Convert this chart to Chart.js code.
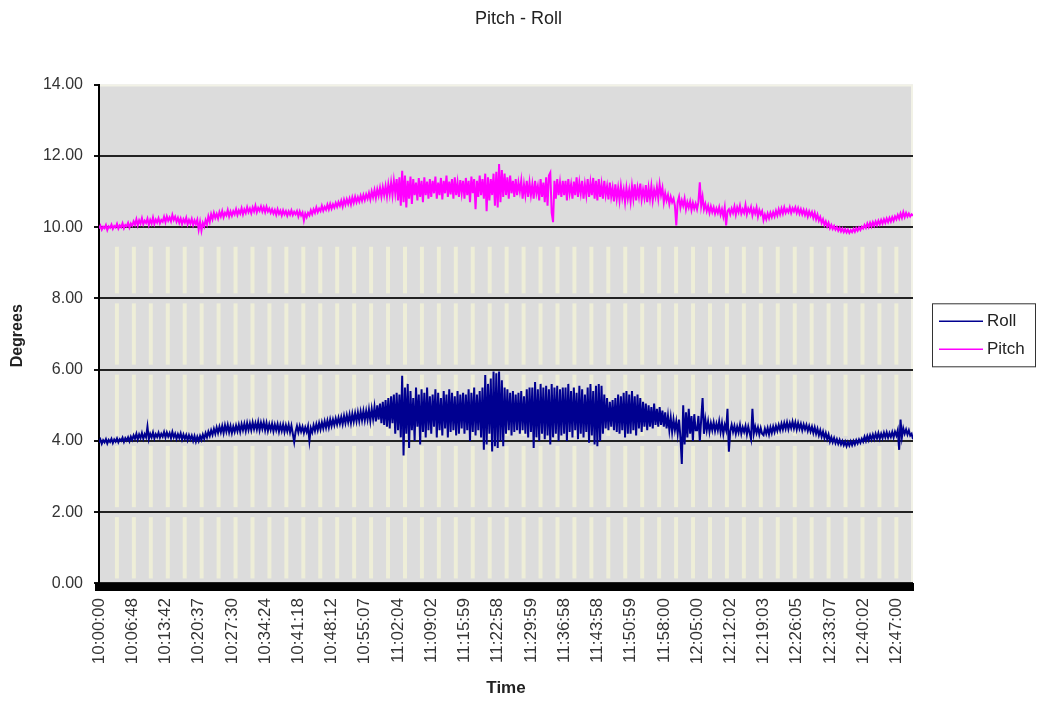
<!DOCTYPE html>
<html><head><meta charset="utf-8">
<script src="https://cdn.jsdelivr.net/npm/chart.js@4.4.1/dist/chart.umd.min.js"></script>
<style>html,body{margin:0;padding:0;background:#fff;}</style>
</head><body>
<canvas id="c" width="1037" height="704"></canvas>
<script>
const chartTitle = 'Pitch - Roll';
const timeLabels = ['10:00:00','10:06:48','10:13:42','10:20:37','10:27:30','10:34:24','10:41:18','10:48:12','10:55:07','11:02:04','11:09:02','11:15:59','11:22:58','11:29:59','11:36:58','11:43:58','11:50:59','11:58:00','12:05:00','12:12:02','12:19:03','12:26:05','12:33:07','12:40:02','12:47:00'];
const samplesPerLabel = 24;
const yTicks = [0, 2, 4, 6, 8, 10, 12, 14];
const seriesNames = ['Roll', 'Pitch'];

const rollValues = [
 3.95,4.04,3.92,4.02,3.96,4.05,3.93,4.03,3.97,4.06,3.94,4.04,3.98,4.07,3.96,4.05,4.0,4.09,3.97,4.08,4.01,4.1,3.99,4.12,
 4.03,4.16,4.06,4.2,4.04,4.18,4.08,4.22,4.06,4.19,4.1,4.4,4.05,4.2,4.1,4.24,4.07,4.19,4.11,4.23,4.09,4.2,4.12,4.25,
 4.1,4.24,4.12,4.22,4.08,4.25,4.1,4.2,4.06,4.19,4.08,4.21,4.04,4.18,4.06,4.17,4.02,4.16,4.04,4.15,4.0,4.14,3.98,4.12,
 4.0,4.14,4.03,4.18,4.06,4.22,4.1,4.26,4.14,4.3,4.17,4.34,4.2,4.38,4.22,4.4,4.24,4.42,4.22,4.44,4.26,4.45,4.24,4.42,
 4.22,4.4,4.25,4.43,4.27,4.45,4.26,4.47,4.3,4.48,4.28,4.5,4.31,4.49,4.3,4.52,4.33,4.5,4.32,4.53,4.3,4.51,4.34,4.52,
 4.3,4.5,4.28,4.47,4.31,4.48,4.27,4.46,4.3,4.47,4.26,4.45,4.28,4.46,4.25,4.44,4.27,4.45,4.24,4.43,4.2,3.97,4.26,4.42,
 4.24,4.42,4.26,4.4,4.22,4.38,4.25,4.41,4.0,4.36,4.24,4.44,4.28,4.47,4.3,4.5,4.32,4.52,4.35,4.55,4.37,4.57,4.38,4.6,
 4.42,4.6,4.44,4.63,4.46,4.65,4.48,4.67,4.47,4.7,4.5,4.72,4.52,4.74,4.5,4.76,4.54,4.78,4.55,4.8,4.56,4.82,4.58,4.84,
 4.58,4.84,4.6,4.88,4.56,4.9,4.62,4.95,4.55,5.0,4.6,5.05,4.5,5.1,4.45,5.15,4.4,5.2,4.35,5.25,4.5,5.3,4.2,5.35,
 4.3,5.3,4.1,5.83,3.59,5.5,4.2,5.6,3.8,5.4,4.3,5.2,4.0,5.5,4.4,5.3,3.9,5.45,4.25,5.35,4.1,5.5,4.3,5.25,
 4.2,5.3,4.4,5.45,4.1,5.35,4.3,5.2,4.15,5.4,4.35,5.3,4.1,5.45,4.25,5.35,4.3,5.25,4.15,5.4,4.2,5.3,4.35,5.35,
 4.2,5.3,4.3,5.45,4.0,5.35,4.25,5.5,4.15,5.3,4.3,5.4,4.1,5.5,3.75,5.85,3.9,5.6,4.2,5.75,3.7,5.95,3.85,5.9,
 3.8,5.95,4.0,5.7,3.85,5.5,4.2,5.45,4.3,5.35,4.15,5.4,4.25,5.3,4.3,5.35,4.2,5.4,4.3,5.25,4.2,5.45,4.1,5.5,
 4.25,5.5,3.8,5.65,4.1,5.45,4.0,5.6,4.2,5.5,4.05,5.55,4.15,5.45,3.9,5.6,4.1,5.5,4.2,5.55,4.0,5.45,4.15,5.5,
 4.2,5.5,4.0,5.6,4.25,5.4,4.1,5.5,4.3,5.35,4.05,5.55,4.2,5.45,4.1,5.3,4.25,5.5,3.95,5.6,4.15,5.4,3.9,5.55,
 3.85,5.6,4.0,5.55,4.2,5.3,4.35,5.2,4.3,5.1,4.4,5.15,4.3,5.2,4.25,5.3,4.2,5.25,4.3,5.35,4.1,5.4,4.2,5.3,
 4.2,5.4,4.3,5.25,4.15,5.3,4.35,5.2,4.25,5.1,4.4,5.05,4.3,5.0,4.4,4.95,4.35,5.05,4.45,4.9,4.4,4.95,4.45,4.85,
 4.4,4.8,4.35,4.7,4.3,4.65,4.25,4.6,4.3,4.55,4.2,4.6,4.1,3.35,5.0,3.9,4.8,4.1,4.9,4.2,4.7,4.0,4.75,4.3,
 4.3,4.7,4.0,4.6,5.2,4.2,4.6,4.3,4.55,4.25,4.5,4.3,4.52,4.28,4.48,4.3,4.55,4.25,4.5,4.2,4.45,4.3,4.9,3.7,
 4.28,4.45,4.25,4.42,4.2,4.4,4.24,4.45,4.2,4.38,4.25,4.42,4.18,4.4,4.22,4.05,4.9,4.2,4.4,4.22,4.38,4.18,4.36,4.2,
 4.16,4.34,4.2,4.36,4.18,4.38,4.22,4.4,4.25,4.42,4.28,4.45,4.3,4.48,4.32,4.5,4.34,4.52,4.33,4.5,4.36,4.54,4.35,4.52,
 4.32,4.5,4.34,4.48,4.3,4.46,4.32,4.45,4.28,4.42,4.26,4.4,4.22,4.38,4.2,4.34,4.16,4.3,4.12,4.26,4.08,4.22,4.05,4.18,
 3.98,4.1,3.96,4.08,3.94,4.05,3.92,4.03,3.9,4.0,3.88,3.98,3.85,3.97,3.87,3.99,3.88,4.0,3.9,4.02,3.93,4.04,3.95,4.06,
 3.98,4.12,4.0,4.14,4.02,4.16,4.04,4.18,4.05,4.2,4.07,4.22,4.06,4.2,4.08,4.23,4.1,4.24,4.09,4.22,4.11,4.25,4.1,4.26,
 4.15,4.3,3.75,4.6,4.1,4.35,4.2,4.32,4.18,4.3,4.15,4.2,4.05
];

const pitchValues = [
 9.96,10.04,9.93,10.01,9.97,10.06,9.92,10.02,9.98,10.07,9.95,10.03,9.99,10.09,9.96,10.05,10.0,10.11,9.97,10.06,10.02,10.12,9.99,10.1,
 10.04,10.16,10.07,10.22,10.05,10.19,10.1,10.25,10.08,10.18,10.12,10.24,10.06,10.2,10.1,10.27,10.09,10.21,10.13,10.25,10.11,10.2,10.15,10.29,
 10.14,10.3,10.18,10.27,10.16,10.34,10.2,10.29,10.15,10.26,10.12,10.24,10.09,10.22,10.13,10.26,10.08,10.2,10.1,10.23,10.06,10.19,10.09,10.21,
 9.93,10.15,9.9,10.12,10.02,10.2,10.08,10.3,10.15,10.36,10.22,10.4,10.26,10.37,10.24,10.42,10.3,10.45,10.28,10.4,10.33,10.48,10.3,10.44,
 10.32,10.45,10.36,10.5,10.34,10.47,10.38,10.53,10.36,10.5,10.4,10.56,10.42,10.52,10.39,10.55,10.44,10.6,10.42,10.54,10.46,10.58,10.44,10.56,
 10.42,10.57,10.44,10.52,10.4,10.5,10.38,10.48,10.35,10.5,10.37,10.46,10.33,10.47,10.36,10.45,10.32,10.44,10.35,10.47,10.34,10.43,10.36,10.45,
 10.3,10.44,10.33,10.41,10.19,10.38,10.28,10.4,10.33,10.47,10.36,10.5,10.4,10.55,10.42,10.52,10.45,10.6,10.46,10.57,10.49,10.63,10.5,10.65,
 10.52,10.64,10.55,10.68,10.57,10.7,10.6,10.74,10.58,10.77,10.63,10.78,10.65,10.8,10.64,10.83,10.68,10.85,10.7,10.84,10.72,10.88,10.74,10.9,
 10.76,10.92,10.8,10.96,10.78,11.0,10.84,11.04,10.82,11.06,10.88,11.1,10.85,11.12,10.9,11.15,10.86,11.2,10.92,11.25,10.9,11.3,10.95,11.35,
 10.75,11.4,10.6,11.58,10.7,11.45,10.55,11.3,10.8,11.42,10.65,11.35,10.9,11.25,10.75,11.38,10.85,11.3,10.7,11.4,10.9,11.28,10.8,11.35,
 10.85,11.3,10.95,11.42,10.8,11.25,10.9,11.38,10.78,11.3,10.95,11.45,10.85,11.28,10.92,11.35,10.8,11.4,10.9,11.25,10.85,11.32,10.95,11.3,
 10.8,11.38,10.9,11.3,10.7,11.42,10.95,11.35,10.5,11.3,10.85,11.45,10.9,11.35,10.8,11.5,10.45,11.4,10.75,11.35,10.9,11.5,10.6,11.55,
 10.55,11.77,10.7,11.6,10.85,11.5,10.9,11.4,10.8,11.45,10.95,11.3,10.85,11.35,10.9,11.25,11.0,11.3,10.8,11.2,10.9,11.3,10.85,11.25,
 10.9,11.2,10.8,11.3,10.95,11.15,10.75,11.35,10.85,11.25,10.7,11.4,10.6,11.45,11.53,10.4,10.14,11.3,10.8,11.35,10.9,11.25,10.85,11.3,
 10.9,11.3,10.75,11.35,10.95,11.2,10.8,11.28,10.9,11.4,10.85,11.25,10.95,11.3,10.8,11.2,10.9,11.35,10.85,11.25,10.9,11.38,10.8,11.3,
 10.75,11.35,10.85,11.2,10.8,11.3,10.9,11.15,10.78,11.25,10.85,11.1,10.72,11.2,10.8,11.1,10.75,11.15,10.82,11.05,10.7,11.1,10.8,11.05,
 10.72,11.15,10.8,11.2,10.75,11.1,10.85,11.22,10.78,11.05,10.82,11.18,10.7,11.1,10.8,11.15,10.75,11.05,10.85,11.12,10.8,11.2,10.9,11.1,
 10.7,10.95,10.75,10.9,10.65,10.85,10.7,10.8,10.6,10.05,10.7,10.85,10.55,10.75,10.6,10.8,10.5,10.7,10.55,10.72,10.48,10.68,10.52,10.66,
 10.5,10.7,11.26,10.6,10.85,10.5,10.65,10.45,10.6,10.4,10.58,10.42,10.55,10.38,10.52,10.4,10.56,10.35,10.5,10.3,10.55,10.05,10.45,10.5,
 10.36,10.52,10.4,10.58,10.35,10.55,10.42,10.6,10.38,10.5,10.4,10.62,10.36,10.52,10.42,10.56,10.33,10.5,10.38,10.55,10.3,10.48,10.36,10.45,
 10.2,10.35,10.22,10.38,10.25,10.4,10.28,10.42,10.3,10.46,10.33,10.5,10.36,10.52,10.38,10.55,10.4,10.5,10.42,10.56,10.4,10.53,10.44,10.55,
 10.4,10.53,10.38,10.5,10.36,10.48,10.34,10.46,10.3,10.44,10.32,10.42,10.26,10.4,10.22,10.35,10.18,10.28,10.12,10.22,10.06,10.16,10.02,10.12,
 9.97,10.06,9.95,10.03,9.93,10.0,9.9,9.98,9.88,9.96,9.86,9.94,9.85,9.93,9.84,9.92,9.86,9.95,9.87,9.97,9.9,9.99,9.92,10.01,
 9.96,10.06,9.98,10.1,10.0,10.12,10.02,10.14,10.04,10.16,10.06,10.18,10.08,10.2,10.1,10.22,10.12,10.24,10.14,10.26,10.16,10.28,10.18,10.3,
 10.22,10.34,10.24,10.38,10.26,10.42,10.28,10.4,10.3,10.38,10.3,10.36,10.32
];

const FONT = "'Liberation Sans', Arial, Helvetica, sans-serif";
const toPoints = arr => arr.map((v, i) => ({ x: i, y: v }));

const plotDecor = {
  id: 'plotDecor',
  beforeDraw(chart) {
    const { ctx, chartArea: a, scales } = chart;
    const xs = scales.x, ys = scales.y;
    ctx.save();
    ctx.fillStyle = '#dcdcdc';
    ctx.fillRect(a.left, a.top, a.right - a.left, a.bottom - a.top);
    // light vertical stripes (minor x gridlines)
    ctx.fillStyle = '#eeeed8';
    const bands = [];
    for (let k = 0; k < yTicks.length - 1; k++) {
      const lo = yTicks[k], hi = yTicks[k + 1];
      if (lo >= 10) continue;
      const top = Math.max(ys.getPixelForValue(hi) + 5, ys.getPixelForValue(Math.min(hi, 9.45)));
      const bot = ys.getPixelForValue(lo) - 5;
      bands.push([top, bot]);
    }
    for (let v = 0.54 * samplesPerLabel; v < xs.max; v += 0.51 * samplesPerLabel) {
      const px = xs.getPixelForValue(v);
      for (const [t, b] of bands) ctx.fillRect(px - 2, t, 4, b - t);
    }
    // light top / right frame
    ctx.strokeStyle = '#f2f2e6';
    ctx.lineWidth = 2;
    ctx.beginPath();
    ctx.moveTo(a.left, a.top + 1); ctx.lineTo(a.right - 1, a.top + 1); ctx.lineTo(a.right - 1, a.bottom);
    ctx.stroke();
    ctx.restore();
  },
  afterDraw(chart) {
    const { ctx, chartArea: a } = chart;
    const left = a.right + 19, w = 103, h = 63;
    const top = (a.top + a.bottom) / 2 - h / 2 - 1;
    ctx.save();
    ctx.fillStyle = '#ffffff';
    ctx.fillRect(left, top, w, h);
    ctx.strokeStyle = '#333';
    ctx.lineWidth = 1;
    ctx.strokeRect(left + 0.5, top + 0.5, w, h);
    ctx.font = '17px ' + FONT;
    ctx.textBaseline = 'middle';
    chart.data.datasets.forEach((ds, i) => {
      const y = top + 18 + i * 28;
      ctx.strokeStyle = ds.borderColor;
      ctx.lineWidth = 1.5;
      ctx.beginPath(); ctx.moveTo(left + 7, y); ctx.lineTo(left + 51, y); ctx.stroke();
      ctx.fillStyle = '#222';
      ctx.fillText(ds.label, left + 55, y);
    });
    ctx.restore();
  }
};

new Chart(document.getElementById('c'), {
  type: 'line',
  data: {
    datasets: [
      { label: seriesNames[0], data: toPoints(rollValues), borderColor: '#000090', borderWidth: 2, pointRadius: 0, tension: 0, fill: false },
      { label: seriesNames[1], data: toPoints(pitchValues), borderColor: '#ff00ff', borderWidth: 2, pointRadius: 0, tension: 0, fill: false }
    ]
  },
  options: {
    responsive: false,
    animation: false,
    devicePixelRatio: 1,
    layout: { padding: 0 },
    plugins: {
      legend: { display: false },
      tooltip: { enabled: false },
      title: { display: true, text: chartTitle, color: '#222', font: { family: FONT, size: 18, weight: 'normal' }, padding: { top: 8, bottom: 55 } }
    },
    scales: {
      x: {
        type: 'linear', min: 0, max: rollValues.length - 1,
        afterBuildTicks: s => { s.ticks = timeLabels.map((_, k) => ({ value: k * samplesPerLabel })); },
        afterFit: s => { s.height = 117; },
        ticks: { autoSkip: false, minRotation: 90, maxRotation: 90, padding: 11, color: '#333', font: { family: FONT, size: 17 },
                 callback: (v, i) => timeLabels[i] },
        grid: { display: false, drawTicks: false },
        border: { display: true, color: '#000', width: 8 },
        title: { display: true, text: 'Time', color: '#222', font: { family: FONT, size: 17, weight: 'bold' }, padding: { top: 0, bottom: 5 } }
      },
      y: {
        min: -0.1, max: 14,
        afterBuildTicks: s => { s.ticks = yTicks.map(v => ({ value: v })); },
        afterFit: s => { s.width = 99; },
        ticks: { padding: 11, color: '#333', font: { family: FONT, size: 16 }, callback: v => Number(v).toFixed(2) },
        grid: { color: c => (c.tick && c.tick.value === 14) ? 'rgba(0,0,0,0)' : '#222', lineWidth: 2, tickLength: 5, tickColor: '#111', drawTicks: true },
        border: { display: true, color: '#000', width: 2 },
        title: { display: true, text: 'Degrees', color: '#222', font: { family: FONT, size: 16, weight: 'bold' }, padding: { top: 8, bottom: 0 } }
      },
      legendSpace: {
        type: 'linear', position: 'right', display: true,
        afterFit: s => { s.width = 124; },
        ticks: { display: false },
        grid: { display: false, drawTicks: false },
        border: { display: false }
      }
    }
  },
  plugins: [plotDecor]
});
</script>
</body></html>
